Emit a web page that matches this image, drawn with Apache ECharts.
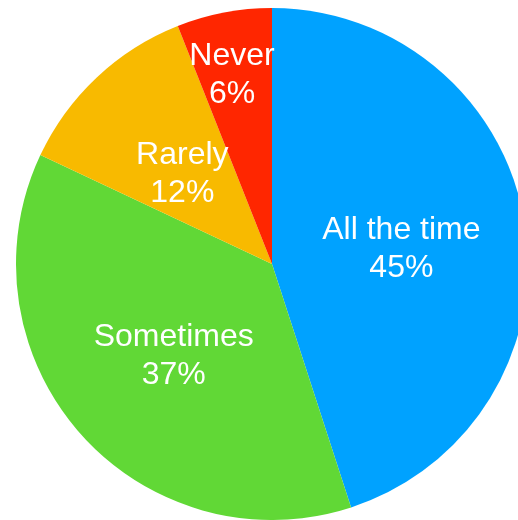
<!DOCTYPE html>
<html>
<head>
<meta charset="utf-8">
<script src="https://cdn.jsdelivr.net/npm/echarts@6/dist/echarts.min.js"></script>
<style>html,body{margin:0;padding:0;background:#fff;}#c{width:518px;height:520px;}</style>
</head>
<body>
<div id="c"></div>
<script>
const categories = ['All the time', 'Sometimes', 'Rarely', 'Never'];
const values = [45, 37, 12, 6];
const colors = ['#00a2ff', '#61d836', '#f8ba00', '#ff2600'];

const chart = echarts.init(document.getElementById('c'), null, {renderer: 'canvas'});
const data = categories.map((name, i) => {
  const item = {name: name, value: values[i], itemStyle: {color: colors[i]}};
  if (name === 'Never') {
    item.label = {position: 'outside'};
    item.labelLine = {show: false};
  }
  return item;
});
chart.setOption({
  animation: false,
  series: [{
    type: 'pie',
    center: [272, 264],
    radius: [0, 256],
    startAngle: 90,
    clockwise: true,
    avoidLabelOverlap: false,
    itemStyle: {borderWidth: 0},
    label: {
      show: true,
      position: 'inside',
      color: '#ffffff',
      fontFamily: 'Liberation Sans, Arial, sans-serif',
      fontSize: 32,
      lineHeight: 38,
      formatter: p => p.name + '\n' + p.value + '%'
    },
    labelLine: {show: false},
    labelLayout: function (params) {
      if (params.dataIndex === 3) {
        return {x: 232, y: 75, align: 'center', verticalAlign: 'middle'};
      }
      return {dy: 6};
    },
    emphasis: {disabled: true},
    data: data
  }]
});
</script>
</body>
</html>
